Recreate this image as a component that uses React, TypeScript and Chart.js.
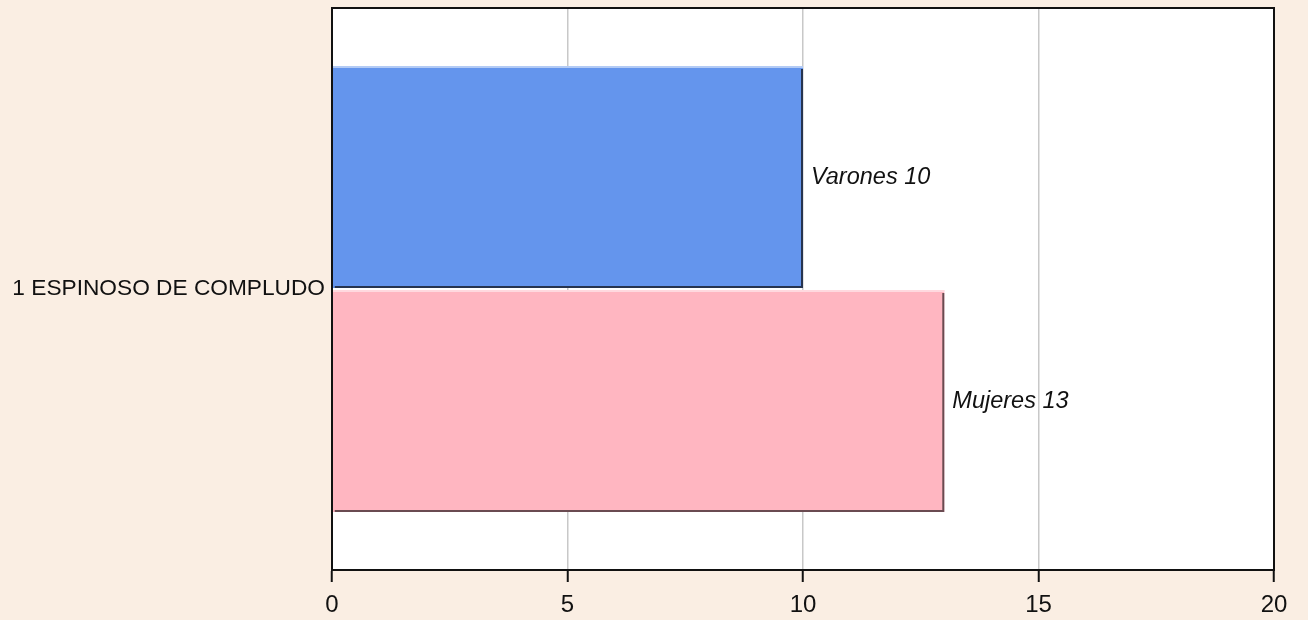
import React, { useEffect, useRef } from "react";
import { Chart, registerables } from "chart.js";

Chart.register(...registerables);

const categories = ["1 ESPINOSO DE COMPLUDO"];
const seriesNames = ["Varones", "Mujeres"];
const varones = [10];
const mujeres = [13];
const xTicks = [0, 5, 10, 15, 20];

const FONT = "'Liberation Sans', Arial, sans-serif";

const bevel: Record<number, { light: string; dark: string }> = {
  0: { light: "#b3cbf5", dark: "#26344f" },
  1: { light: "#ffd9df", dark: "#6a4b51" },
};

const plotPlugin = {
  id: "plotDecor",
  beforeDraw(chart: any) {
    const { ctx, chartArea: a } = chart;
    ctx.save();
    ctx.fillStyle = "#ffffff";
    ctx.fillRect(a.left, a.top, a.right - a.left, a.bottom - a.top);
    ctx.restore();
  },
  afterDatasetsDraw(chart: any) {
    const { ctx } = chart;
    ctx.save();
    chart.data.datasets.forEach((ds: any, di: number) => {
      const meta = chart.getDatasetMeta(di);
      meta.data.forEach((el: any, i: number) => {
        const left = Math.min(el.base, el.x);
        const right = Math.max(el.base, el.x);
        const top = el.y - el.height / 2;
        const bottom = el.y + el.height / 2;
        const c = bevel[di];
        ctx.lineWidth = 2;
        ctx.strokeStyle = c.light;
        ctx.beginPath();
        ctx.moveTo(left, top + 1);
        ctx.lineTo(right, top + 1);
        ctx.stroke();
        ctx.strokeStyle = c.dark;
        ctx.beginPath();
        ctx.moveTo(left + 2, bottom - 1);
        ctx.lineTo(right - 1, bottom - 1);
        ctx.lineTo(right - 1, top + 3);
        ctx.stroke();
        ctx.fillStyle = "#111";
        ctx.font = `italic 23.5px ${FONT}`;
        ctx.textAlign = "left";
        ctx.textBaseline = "middle";
        ctx.fillText(`${seriesNames[di]} ${ds.data[i]}`, right + 8, el.y);
      });
    });
    const a = chart.chartArea;
    ctx.strokeStyle = "#111";
    ctx.lineWidth = 2;
    ctx.strokeRect(a.left, a.top, a.right - a.left, a.bottom - a.top);
    ctx.restore();
  },
};

export default function App() {
  const ref = useRef<HTMLCanvasElement>(null);
  useEffect(() => {
    if (!ref.current) return;
    const chart = new Chart(ref.current, {
      type: "bar",
      data: {
        labels: categories,
        datasets: [
          {
            label: seriesNames[0],
            data: varones,
            backgroundColor: "#6495ed",
            borderWidth: 0,
          },
          {
            label: seriesNames[1],
            data: mujeres,
            backgroundColor: "#ffb6c1",
            borderWidth: 0,
          },
        ],
      },
      options: {
        indexAxis: "y",
        responsive: false,
        animation: false,
        categoryPercentage: 0.797,
        barPercentage: 0.991,
        layout: { padding: { top: 8, right: 34, left: 0, bottom: 0 } },
        plugins: { legend: { display: false }, tooltip: { enabled: false } },
        scales: {
          x: {
            min: 0,
            max: 20,
            afterBuildTicks: (axis: any) => {
              axis.ticks = xTicks.map((v) => ({ value: v }));
            },
            afterFit: (axis: any) => {
              axis.height = 50;
              axis.paddingLeft = 0;
              axis.paddingRight = 0;
            },
            grid: {
              color: (c: any) =>
                c.tick && (c.tick.value === 0 || c.tick.value === 20) ? "rgba(0,0,0,0)" : "#c8c8c8",
              lineWidth: 1.5,
              tickColor: "#111",
              tickLength: 12,
              tickWidth: 2,
            },
            border: { display: true, color: "#111", width: 2 },
            ticks: {
              color: "#111",
              font: { family: FONT, size: 24 },
              padding: 9,
              maxRotation: 0,
            },
          },
          y: {
            afterFit: (axis: any) => {
              axis.width = 332;
              axis.paddingTop = 0;
              axis.paddingBottom = 0;
            },
            grid: { display: false, drawTicks: false },
            border: { display: true, color: "#111", width: 2 },
            ticks: {
              color: "#111",
              font: { family: FONT, size: 22.7 },
              padding: 7,
            },
          },
        },
      },
      plugins: [plotPlugin],
    });
    return () => chart.destroy();
  }, []);
  return (
    <div
      style={{
        position: "fixed",
        left: 0,
        top: 0,
        width: 1308,
        height: 620,
        background: "#faeee3",
      }}
    >
      <canvas ref={ref} width={1308} height={620} style={{ display: "block" }} />
    </div>
  );
}
